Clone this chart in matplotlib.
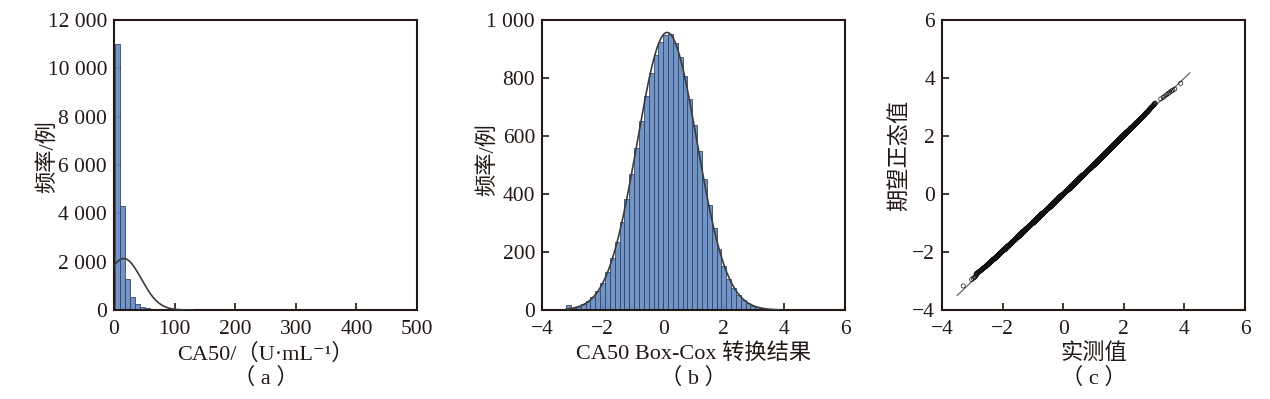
import numpy as np
import matplotlib
matplotlib.use("Agg")
import matplotlib.pyplot as plt
from matplotlib.ticker import FuncFormatter, MultipleLocator
from statistics import NormalDist

plt.rcParams['font.family'] = ['Liberation Serif', 'Noto Sans CJK SC', 'DejaVu Serif']
plt.rcParams['axes.unicode_minus'] = True

# ---------------- data ----------------
# panel (a): raw CA50 histogram
a_bin_start = 2.0
a_bin_width = 8.3
a_counts = [11000, 4320, 1270, 524, 248, 138, 70, 40, 22, 12, 6, 4]
a_fit_mean = 16.0
a_fit_sd = 29.0
a_fit_peak = 2130.0

# panel (b): Box-Cox transformed histogram
b_bin_start = -3.2
b_bin_width = 0.16
b_counts = [18, 6, 12, 19, 30, 45, 66, 94, 131, 178, 236, 304, 382, 468, 559,
            651, 738, 817, 880, 925, 948, 952, 920, 873, 808, 728, 639, 547,
            452, 362, 282, 212, 153, 108, 76, 52, 35, 23, 14, 9, 5, 2]

# panel (c): isolated tail points of the Q-Q plot (observed, expected)
c_tail_obs = [-3.30, -3.02, -2.97, -2.93, -2.90, -2.86,
              3.22, 3.30, 3.36, 3.42, 3.47, 3.52, 3.57, 3.62, 3.68, 3.88]
c_tail_exp = [-3.17, -2.95, -2.91, -2.88, -2.85, -2.80,
              3.28, 3.33, 3.38, 3.43, 3.47, 3.51, 3.55, 3.58, 3.62, 3.82]
c_min_bin_count = 12   # bins of (b) dense enough to form the solid band

# labels
a_xlabel = "CA50/（U·mL⁻¹）"
b_xlabel = "CA50 Box-Cox 转换结果"
c_xlabel = "实测值"
ab_ylabel = "频率/例"
c_ylabel = "期望正态值"
panel_tags = ["（ a ）", "（ b ）", "（ c ）"]

# ---------------- style ----------------
ink = '#231815'
bar_face = '#6a8fc3'
bar_edge = '#2c4369'
curve_col = '#3a3a3a'
tick_fs = 15.5
lab_fs = 16

fig = plt.figure(figsize=(12.7, 3.99), dpi=100)
W, H = 1270, 399
def axrect(l, r, t=20, b=310):
    return [l / W, 1 - b / H, (r - l) / W, (b - t) / H]

axA = fig.add_axes(axrect(114, 417))
axB = fig.add_axes(axrect(542, 845))
axC = fig.add_axes(axrect(942, 1245))

def style(ax):
    for s in ax.spines.values():
        s.set_color(ink)
        s.set_linewidth(1.5)
    ax.tick_params(direction='in', length=5, width=1.2, colors=ink,
                   labelsize=tick_fs, labelcolor=ink, top=False, right=False)
    ax.tick_params(axis='x', pad=7)
    ax.tick_params(axis='y', pad=5)

def thousands(v, pos):
    s = f"{abs(v):,.0f}".replace(",", " ")
    return ("−" if v < 0 else "") + s

def labels(ax, xl, yl, ylx, yly, tag):
    ax.set_xlabel(xl, fontsize=lab_fs, color=ink, va='top')
    ax.xaxis.set_label_coords(0.5, -0.115)
    ax.set_ylabel(yl, fontsize=lab_fs, color=ink, va='center')
    ax.yaxis.set_label_coords(ylx, yly)
    ax.text(0.5, -0.235, tag, transform=ax.transAxes, ha='center', va='center',
            fontsize=lab_fs, color=ink)

# ---- panel a ----
a_edges = a_bin_start + a_bin_width * np.arange(len(a_counts) + 1)
axA.bar(a_edges[:-1], a_counts, width=a_bin_width, align='edge',
        color=bar_face, edgecolor=bar_edge, linewidth=0.6, alpha=0.95, zorder=2)
xa = np.linspace(0, 130, 400)
axA.plot(xa, a_fit_peak * np.exp(-0.5 * ((xa - a_fit_mean) / a_fit_sd) ** 2),
         color=curve_col, lw=1.2, zorder=3)
axA.set_xlim(0, 500)
axA.set_ylim(0, 12000)
axA.xaxis.set_major_locator(MultipleLocator(100))
axA.yaxis.set_major_locator(MultipleLocator(2000))
axA.yaxis.set_major_formatter(FuncFormatter(thousands))
style(axA)
labels(axA, a_xlabel, ab_ylabel, -0.218, 0.528, panel_tags[0])

# ---- panel b ----
b_edges = b_bin_start + b_bin_width * np.arange(len(b_counts) + 1)
b_centers = 0.5 * (b_edges[:-1] + b_edges[1:])
b_counts_arr = np.array(b_counts, dtype=float)
b_n = b_counts_arr.sum()
b_mean = (b_centers * b_counts_arr).sum() / b_n
b_sd = np.sqrt(((b_centers - b_mean) ** 2 * b_counts_arr).sum() / b_n)
axB.bar(b_edges[:-1], b_counts, width=b_bin_width, align='edge',
        color=bar_face, edgecolor=bar_edge, linewidth=0.6, alpha=0.95, zorder=2)
xb = np.linspace(b_edges[0], b_edges[-1] + 0.3, 400)
axB.plot(xb, b_n * b_bin_width / (b_sd * np.sqrt(2 * np.pi)) *
         np.exp(-0.5 * ((xb - b_mean) / b_sd) ** 2),
         color=curve_col, lw=1.2, zorder=3)
axB.set_xlim(-4, 6)
axB.set_ylim(0, 1000)
axB.xaxis.set_major_locator(MultipleLocator(2))
axB.yaxis.set_major_locator(MultipleLocator(200))
axB.yaxis.set_major_formatter(FuncFormatter(thousands))
style(axB)
labels(axB, b_xlabel, ab_ylabel, -0.18, 0.52, panel_tags[1])

# ---- panel c: normal Q-Q of the panel (b) values ----
obs_all = np.concatenate([lo + (np.arange(int(n)) + 0.5) * (hi - lo) / n
                          for lo, hi, n in zip(b_edges[:-1], b_edges[1:], b_counts) if n > 0])
obs_all.sort()
nobs = len(obs_all)
nd = NormalDist()
z = np.array([nd.inv_cdf((i + 1 - 0.375) / (nobs + 0.25)) for i in range(nobs)])
exp_all = b_mean + b_sd * z
# longest contiguous run of dense bins forms the solid band
dense = np.array(b_counts) >= c_min_bin_count
best = (0, 0)
start = None
for i, d in enumerate(list(dense) + [False]):
    if d and start is None:
        start = i
    elif not d and start is not None:
        if i - start > best[1] - best[0]:
            best = (start, i)
        start = None
dense_lo = b_edges[best[0]]
dense_hi = b_edges[best[1]]
keep = (obs_all >= dense_lo) & (obs_all <= dense_hi)
c_obs = np.concatenate([obs_all[keep], c_tail_obs])
c_exp = np.concatenate([exp_all[keep], c_tail_exp])
lx = np.array([c_obs.min() - 0.2, c_obs.max() + 0.3])
axC.plot(lx, lx, color='#555555', lw=0.8, zorder=2)
axC.scatter(c_obs, c_exp, s=9, facecolors='none', edgecolors='#111111',
            linewidths=0.5, zorder=3)
axC.set_xlim(-4, 6)
axC.set_ylim(-4, 6)
axC.xaxis.set_major_locator(MultipleLocator(2))
axC.yaxis.set_major_locator(MultipleLocator(2))
style(axC)
labels(axC, c_xlabel, c_ylabel, -0.139, 0.534, panel_tags[2])

fig.savefig("out.png", dpi=100)
